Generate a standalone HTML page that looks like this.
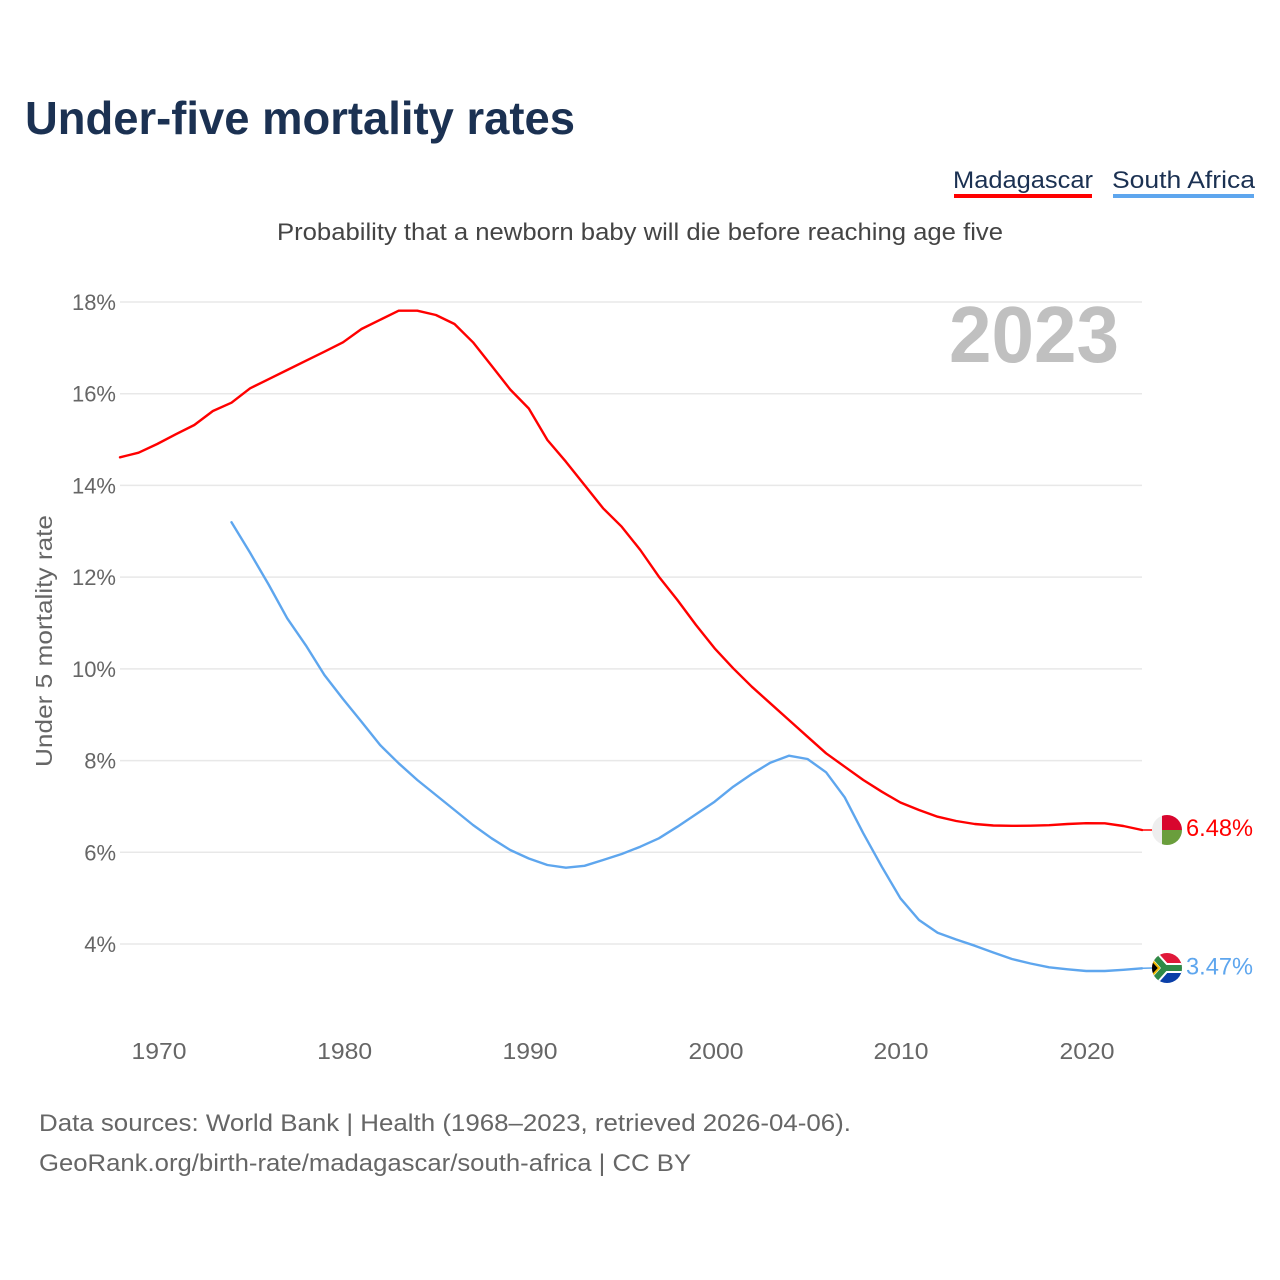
<!DOCTYPE html>
<html>
<head>
<meta charset="utf-8">
<style>
  html, body { margin: 0; padding: 0; background: #ffffff; }
  svg { display: block; }
  text { font-family: "Liberation Sans", "DejaVu Sans", sans-serif; }
</style>
</head>
<body>
<svg width="1280" height="1280" viewBox="0 0 1280 1280" xmlns="http://www.w3.org/2000/svg">
  <rect x="0" y="0" width="1280" height="1280" fill="#ffffff"/>

  <!-- Title -->
  <text x="25" y="134" font-size="46" font-weight="bold" fill="#1b3152" textLength="550" lengthAdjust="spacingAndGlyphs">Under-five mortality rates</text>

  <!-- Legend -->
  <text x="953" y="188" font-size="24" fill="#1b3152" textLength="140" lengthAdjust="spacingAndGlyphs">Madagascar</text>
  <rect x="954" y="194" width="138" height="4" fill="#ff0000"/>
  <text x="1112" y="188" font-size="24" fill="#1b3152" textLength="143" lengthAdjust="spacingAndGlyphs">South Africa</text>
  <rect x="1113" y="194" width="141" height="4" fill="#5ea6ee"/>

  <!-- Subtitle -->
  <text x="277" y="240" font-size="24" fill="#444444" textLength="726" lengthAdjust="spacingAndGlyphs">Probability that a newborn baby will die before reaching age five</text>

  <!-- Gridlines -->
  <g stroke="#e8e8e8" stroke-width="1.5">
    <line x1="120" y1="302" x2="1142" y2="302"/>
    <line x1="120" y1="393.7" x2="1142" y2="393.7"/>
    <line x1="120" y1="485.4" x2="1142" y2="485.4"/>
    <line x1="120" y1="577.1" x2="1142" y2="577.1"/>
    <line x1="120" y1="668.9" x2="1142" y2="668.9"/>
    <line x1="120" y1="760.6" x2="1142" y2="760.6"/>
    <line x1="120" y1="852.3" x2="1142" y2="852.3"/>
    <line x1="120" y1="944" x2="1142" y2="944"/>
  </g>

  <!-- Y tick labels -->
  <g font-size="22" fill="#666666" text-anchor="end">
    <text x="116" y="310">18%</text>
    <text x="116" y="401.7">16%</text>
    <text x="116" y="493.4">14%</text>
    <text x="116" y="585.1">12%</text>
    <text x="116" y="676.9">10%</text>
    <text x="116" y="768.6">8%</text>
    <text x="116" y="860.3">6%</text>
    <text x="116" y="952">4%</text>
  </g>

  <!-- Y axis title -->
  <text x="0" y="0" font-size="23" fill="#666666" text-anchor="middle" transform="translate(52,641) rotate(-90)" textLength="252" lengthAdjust="spacingAndGlyphs">Under 5 mortality rate</text>

  <!-- X tick labels -->
  <g font-size="23" fill="#666666" text-anchor="middle">
    <text x="159" y="1059" textLength="55" lengthAdjust="spacingAndGlyphs">1970</text>
    <text x="344.7" y="1059" textLength="55" lengthAdjust="spacingAndGlyphs">1980</text>
    <text x="530" y="1059" textLength="55" lengthAdjust="spacingAndGlyphs">1990</text>
    <text x="716" y="1059" textLength="55" lengthAdjust="spacingAndGlyphs">2000</text>
    <text x="901" y="1059" textLength="55" lengthAdjust="spacingAndGlyphs">2010</text>
    <text x="1087" y="1059" textLength="55" lengthAdjust="spacingAndGlyphs">2020</text>
  </g>

  <!-- Year watermark -->
  <text x="949" y="362" font-size="80" font-weight="bold" fill="#c0c0c0" textLength="170" lengthAdjust="spacingAndGlyphs">2023</text>

  <!-- Madagascar series -->
  <polyline fill="none" stroke="#ff0000" stroke-width="2.4" stroke-linejoin="round" stroke-linecap="round"
    points="120,457.3 138.6,452.7 157.2,444 175.7,434.3 194.3,425 212.9,411 231.5,402.7 250.1,388.3 268.6,379.2 287.2,370 305.8,360.8 324.4,351.7 343,342.3 361.5,329 380.1,319.8 398.7,310.7 417.3,310.7 435.9,315 454.5,324 473,342.3 491.6,365.7 510.2,389.5 528.8,408.5 547.4,440 565.9,461.7 584.5,485 603.1,508.3 621.7,526.7 640.3,550 658.9,576.7 677.4,600 696,625 714.6,648.3 733.2,668.3 751.8,686.7 770.3,703.3 788.9,720 807.5,736.7 826.1,753.3 844.7,766.7 863.3,780 881.8,791.7 900.4,802.5 919,810 937.6,816.7 956.2,821 974.7,824 993.3,825.5 1011.9,825.8 1030.5,825.7 1049.1,825.2 1067.6,824 1086.2,823.2 1104.8,823.3 1123.4,826 1142,830"/>
  <line x1="1142" y1="830" x2="1152" y2="830" stroke="#ff0000" stroke-width="1.5"/>

  <!-- South Africa series -->
  <polyline fill="none" stroke="#5ea6ee" stroke-width="2.4" stroke-linejoin="round" stroke-linecap="round"
    points="231.5,522.3 250.1,552.8 268.6,584.5 287.2,618.3 305.8,645.3 324.4,675 343,699 361.5,721.7 380.1,745 398.7,763.3 417.3,780 435.9,795 454.5,810 473,825 491.6,838.3 510.2,850 528.8,858.5 547.4,865 565.9,867.7 584.5,865.8 603.1,860 621.7,854 640.3,846.7 658.9,838.3 677.4,826.7 696,814.3 714.6,801.7 733.2,786.7 751.8,774 770.3,762.7 788.9,755.7 807.5,759 826.1,772.3 844.7,797.3 863.3,833.3 881.8,866.7 900.4,898.3 919,920 937.6,932.7 956.2,939.5 974.7,945.7 993.3,952.5 1011.9,959 1030.5,963.5 1049.1,967.3 1067.6,969.3 1086.2,971 1104.8,971 1123.4,969.8 1142,968.3"/>
  <line x1="1142" y1="968.3" x2="1152" y2="968" stroke="#5ea6ee" stroke-width="1.5"/>

  <defs>
    <clipPath id="cm"><circle cx="1167" cy="830" r="15"/></clipPath>
    <clipPath id="cz"><circle cx="1167" cy="968" r="15"/></clipPath>
  </defs>

  <!-- Madagascar flag -->
  <g clip-path="url(#cm)">
    <rect x="1150" y="813" width="34" height="34" fill="#eeeeee"/>
    <rect x="1162" y="813" width="22" height="17" fill="#d8062e"/>
    <rect x="1162" y="830" width="22" height="17" fill="#6a9e3c"/>
  </g>

  <!-- South Africa flag -->
  <g clip-path="url(#cz)">
    <rect x="1150" y="951" width="34" height="17" fill="#e0193a"/>
    <rect x="1150" y="968" width="34" height="17" fill="#0a3fa8"/>
    <path d="M1148,949 L1165,968 L1148,987" fill="none" stroke="#ffffff" stroke-width="10"/>
    <line x1="1164" y1="968" x2="1186" y2="968" stroke="#ffffff" stroke-width="10"/>
    <path d="M1148,949 L1165,968 L1148,987" fill="none" stroke="#2f8a47" stroke-width="6"/>
    <line x1="1164" y1="968" x2="1186" y2="968" stroke="#2f8a47" stroke-width="6"/>
    <polygon points="1150,958 1159,968 1150,978" fill="#000000" stroke="#f2b900" stroke-width="2"/>
  </g>

  <!-- End labels -->
  <text x="1186" y="836" font-size="24" fill="#ff0000" textLength="67" lengthAdjust="spacingAndGlyphs">6.48%</text>
  <text x="1186" y="974.5" font-size="24" fill="#5ea6ee" textLength="67" lengthAdjust="spacingAndGlyphs">3.47%</text>

  <!-- Footer -->
  <text x="39" y="1131" font-size="24" fill="#666666" textLength="812" lengthAdjust="spacingAndGlyphs">Data sources: World Bank | Health (1968–2023, retrieved 2026-04-06).</text>
  <text x="39" y="1171" font-size="24" fill="#666666" textLength="652" lengthAdjust="spacingAndGlyphs">GeoRank.org/birth-rate/madagascar/south-africa | CC BY</text>
</svg>
</body>
</html>
